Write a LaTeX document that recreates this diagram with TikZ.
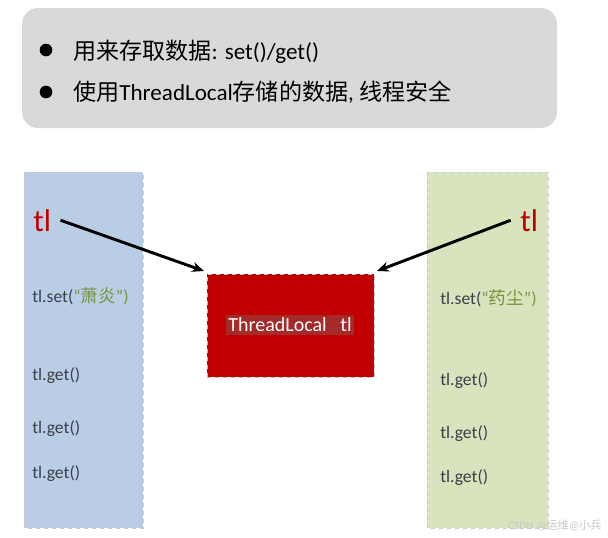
\documentclass[tikz,border=0pt]{standalone}
\usepackage{fontspec}
\setmainfont{Carlito}
\newfontfamily\cjk{Noto Sans CJK SC}
\usetikzlibrary{arrows.meta}
\definecolor{panelgray}{HTML}{D9D9D9}
\definecolor{bluecol}{HTML}{B9CDE5}
\definecolor{greencol}{HTML}{D7E4BD}
\definecolor{redbox}{HTML}{C00000}
\definecolor{redhl}{HTML}{A52A2A}
\definecolor{tlred}{HTML}{C00000}
\definecolor{codegray}{HTML}{3A4048}
\definecolor{olive}{HTML}{77933C}
\begin{document}
\begin{tikzpicture}[x=0.75pt,y=-0.75pt,
  colbox/.style={draw=black!20,dashed,line width=0.5pt},
  bul/.style={circle,fill=black,inner sep=0pt,minimum size=9.5pt},
  toptext/.style={anchor=base west,inner sep=0pt,font=\fontsize{17.3}{19}\selectfont,text=black},
  code/.style={anchor=base west,inner sep=0pt,font=\fontsize{13.2}{15}\selectfont,text=codegray},
  tlbig/.style={anchor=base west,inner sep=0pt,font=\fontsize{23.5}{25}\selectfont,text=tlred},
  arr/.style={-{Stealth[length=9pt,width=7.5pt]},line width=2.2pt,black}]
\useasboundingbox (0,0) rectangle (608,537);
% top panel
\fill[panelgray,rounded corners=12pt] (22,8) rectangle (557,128);
\node[bul] (b1) at (46,50) {};
\node[bul] (b2) at (46,92) {};
\node[toptext] (t1) at (73,59) {{\cjk 用来存取数据}: set()/get()};
\node[toptext] (t2) at (73,100) {{\cjk 使用}ThreadLocal{\cjk 存储的数据}, {\cjk 线程安全}};
% columns
\draw[colbox,fill=bluecol] (24,172) rectangle (143,528);
\draw[colbox,fill=greencol] (427,172) rectangle (548,528);
% red box
\node[draw=black!25,dashed,line width=0.5pt,fill=redbox,minimum width=167*0.75pt,minimum height=103*0.75pt,inner sep=0pt] (tlbox) at (290.5,325.5) {};
\node[fill=redhl,text=white,inner sep=2pt,font=\fontsize{15}{17}\selectfont] (tltext) at (290,325) {ThreadLocal\ \ \ tl};
% tl labels
\node[tlbig] (tlL) at (33,231) {tl};
\node[tlbig] (tlR) at (520,231) {tl};
% left code
\node[code] (sL) at (32,302) {tl.set(\textcolor{olive}{“{\cjk 萧炎}”)}};
\node[code] (gL1) at (32,380) {tl.get()};
\node[code] (gL2) at (32,433) {tl.get()};
\node[code] (gL3) at (32,478) {tl.get()};
% right code
\node[code] (sR) at (440,304) {tl.set(\textcolor{olive}{“{\cjk 药尘}”)}};
\node[code] (gR1) at (440,385) {tl.get()};
\node[code] (gR2) at (440,438) {tl.get()};
\node[code] (gR3) at (440,482) {tl.get()};
% arrows
\draw[arr] ([xshift=7pt]tlL.east) -- ([xshift=-2pt,yshift=2pt]tlbox.north west);
\draw[arr] ([xshift=-7pt]tlR.west) -- ([xshift=2pt,yshift=2pt]tlbox.north east);
% watermark
\node[anchor=base east,inner sep=0pt,text=black!22,font=\fontsize{8.5}{10}\selectfont] (wm) at (602,529) {CSDN @{\cjk 运维}@{\cjk 小兵}};
\end{tikzpicture}
\end{document}
